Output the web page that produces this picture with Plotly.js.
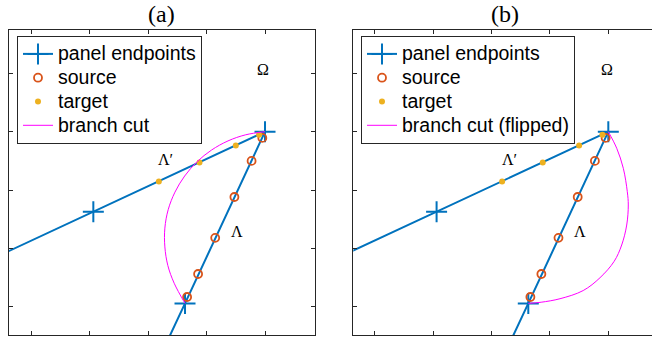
<!DOCTYPE html>
<html>
<head>
<meta charset="utf-8">
<script src="https://cdn.plot.ly/plotly-3.0.1.min.js"></script>
<style>html,body{margin:0;padding:0;background:#fff;}#chart{width:652px;height:345px;}</style>
</head>
<body>
<div id="chart"></div>
<script>
// ---- data ----
const panelX  = [-4.70, -2.94, 0.00, -1.37, -1.75];
const panelY  = [-2.19, -1.37, 0.00, -2.94, -3.75];
const sourceX = [-0.046, -0.230, -0.524, -0.853, -1.146, -1.334];
const sourceY = [-0.106, -0.500, -1.118, -1.818, -2.437, -2.830];
const targetX = [-0.101, -0.500, -1.122, -1.818];
const targetY = [-0.052, -0.236, -0.529, -0.854];
const cutAX = [0.000, -0.330, -0.634, -0.915, -1.165, -1.376, -1.542, -1.658, -1.715, -1.715, -1.664, -1.555, -1.370];
const cutAY = [0.000, -0.053, -0.158, -0.314, -0.516, -0.759, -1.035, -1.335, -1.651, -1.973, -2.291, -2.595, -2.940];
const cutBX = [0.000, 0.144, 0.257, 0.325, 0.342, 0.315, 0.229, 0.100, -0.142, -0.430, -0.827, -1.150, -1.370];
const cutBY = [0.000, -0.284, -0.627, -1.027, -1.255, -1.598, -1.940, -2.220, -2.500, -2.720, -2.860, -2.920, -2.940];
const xTicks = [-4, -3, -2, -1, 0];
const yTicks = [-3, -2, -1, 0, 1];
const panelTitles = ['(a)', '(b)'];
const legendNames = ['panel endpoints', 'source', 'target'];
const cutNames = ['branch cut', 'branch cut (flipped)'];
const regionLabels = ['\u03A9', '\u039B\u2032', '\u039B'];
const regionX = [-0.03, -1.70, -0.485];
const regionY = [1.06, -0.47, -1.71];

// ---- styles ----
const blue = '#0072BD', orange = '#D95319', yellow = '#EDB120', magenta = '#FF00FF';
const axisColor = '#262626';
const big = s => '<span style="font-size:19.5px">' + s + '</span>';

function traces(xa, ya, leg, cutX, cutY, cutName) {
  return [
    {x: panelX, y: panelY, xaxis: xa, yaxis: ya, legend: leg, name: big(legendNames[0]),
     mode: 'lines+markers', line: {color: blue, width: 2},
     marker: {symbol: 'cross-thin', size: 15, line: {color: blue, width: 2}}},
    {x: sourceX, y: sourceY, xaxis: xa, yaxis: ya, legend: leg, name: big(legendNames[1]),
     mode: 'markers', marker: {symbol: 'circle-open', size: 8, color: orange, line: {color: orange, width: 1.8}}},
    {x: targetX, y: targetY, xaxis: xa, yaxis: ya, legend: leg, name: big(legendNames[2]),
     mode: 'markers', marker: {symbol: 'circle', size: 6, color: yellow}},
    {x: cutX, y: cutY, xaxis: xa, yaxis: ya, legend: leg, name: big(cutName),
     mode: 'lines', line: {color: magenta, width: 1, shape: 'spline', smoothing: 1}}
  ];
}

const data = [].concat(
  traces('x', 'y', 'legend', cutAX, cutAY, cutNames[0]),
  traces('x2', 'y2', 'legend2', cutBX, cutBY, cutNames[1])
);

const W = 652, H = 345;
const yRange = [-3.481, 1.741];
const baseAxis = {
  showgrid: false, zeroline: false, showticklabels: false,
  showline: true, linecolor: axisColor, linewidth: 1,
  ticks: 'inside', ticklen: 4, tickwidth: 1, tickcolor: axisColor,
  tickmode: 'array', fixedrange: true
};
const legendBase = {
  font: {family: 'Liberation Sans, Arial, sans-serif', size: 16, color: '#000'},
  bgcolor: '#fff', bordercolor: axisColor, borderwidth: 1,
  xanchor: 'left', yanchor: 'top', y: 1 - 36 / H,
  itemwidth: 30, tracegroupgap: 0
};

const annotations = [];
panelTitles.forEach((t, i) => {
  annotations.push({text: t, xref: 'paper', yref: 'paper', x: (i === 0 ? 161 : 505) / W, y: 1,
    showarrow: false, xanchor: 'center', yanchor: 'top', borderpad: 0,
    font: {family: 'Liberation Serif, DejaVu Serif, serif', size: 24, color: '#000'}});
});
['x', 'x2'].forEach((xr, j) => {
  regionLabels.forEach((t, i) => {
    annotations.push({text: t, xref: xr, yref: j === 0 ? 'y' : 'y2', x: regionX[i], y: regionY[i],
      showarrow: false, xanchor: 'center', yanchor: 'middle',
      font: {family: 'Liberation Serif, DejaVu Serif, serif', size: 16, color: '#000'}});
  });
});

const layout = {
  width: W, height: H,
  margin: {l: 0, r: 0, t: 0, b: 0, pad: 0},
  paper_bgcolor: '#fff', plot_bgcolor: '#fff',
  showlegend: true,
  xaxis: Object.assign({}, baseAxis, {domain: [9 / W, 315 / W], range: [-4.384, 0.856], tickvals: xTicks, mirror: 'ticks', anchor: 'y'}),
  yaxis: Object.assign({}, baseAxis, {domain: [1 - 335 / H, 1 - 30 / H], range: yRange, tickvals: yTicks, mirror: 'ticks', anchor: 'x'}),
  xaxis2: Object.assign({}, baseAxis, {domain: [353.3 / W, 1], range: [-4.366, 0.748], tickvals: xTicks, mirror: 'ticks', anchor: 'y2'}),
  yaxis2: Object.assign({}, baseAxis, {domain: [1 - 335 / H, 1 - 30 / H], range: yRange, tickvals: yTicks, mirror: false, anchor: 'x2'}),
  legend: Object.assign({}, legendBase, {x: 17 / W}),
  legend2: Object.assign({}, legendBase, {x: 361 / W}),
  annotations: annotations
};

Plotly.newPlot('chart', data, layout, {staticPlot: true, displayModeBar: false});
</script>
</body>
</html>
